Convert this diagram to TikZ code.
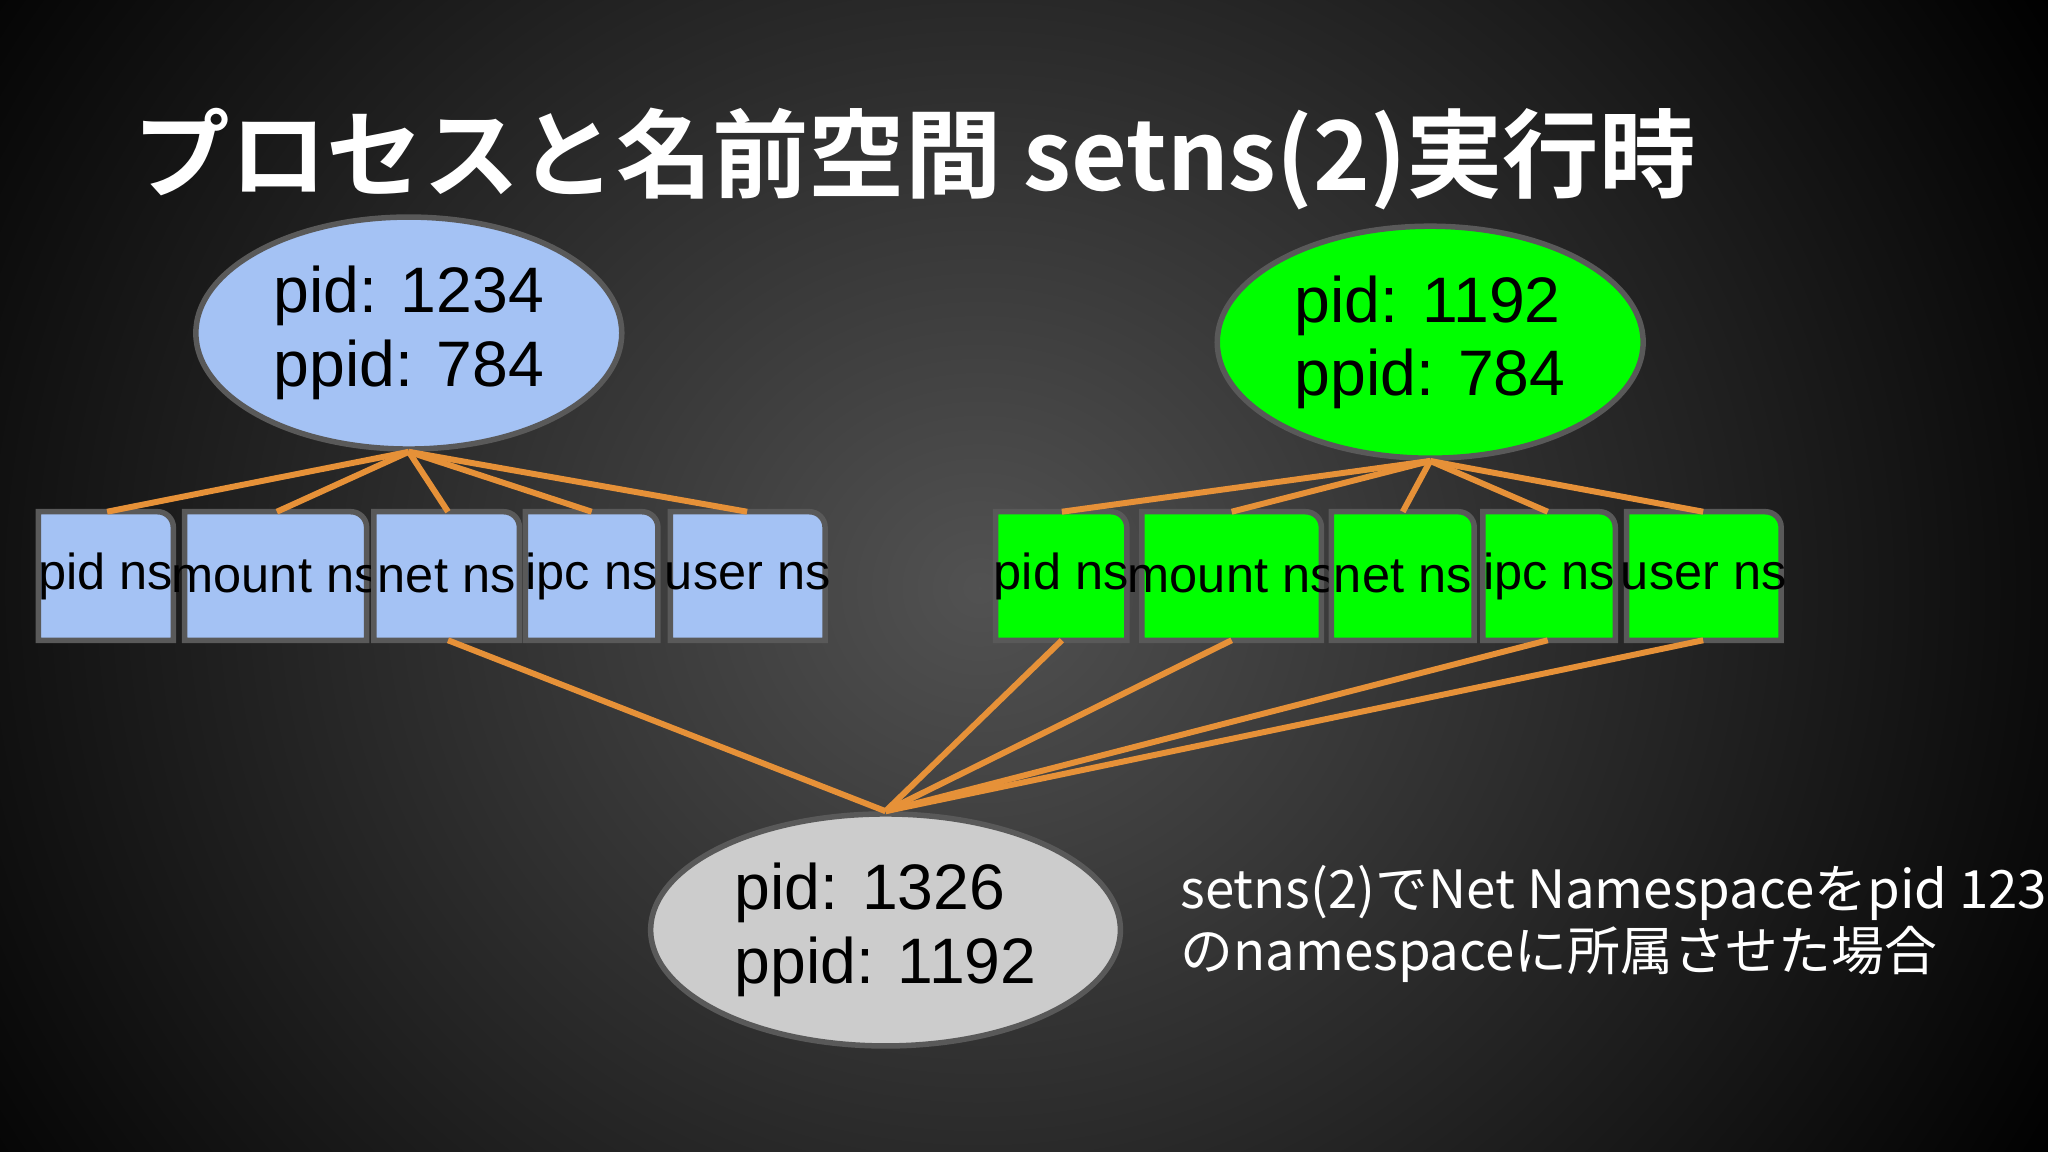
\documentclass[tikz,border=0pt]{standalone}
\usepackage{fontspec}
\setmainfont{Liberation Sans}
\newfontfamily\cjk{Noto Sans CJK JP}
\newfontfamily\cjkb{Noto Sans CJK JP Bold}
\usetikzlibrary{calc,shapes.geometric}
\definecolor{blu}{HTML}{A4C2F4}
\definecolor{grn}{HTML}{00FF00}
\definecolor{gry}{HTML}{CCCCCC}
\definecolor{org}{HTML}{E69138}
\definecolor{edge}{HTML}{595959}
\newlength{\pxu}\setlength{\pxu}{0.01cm}
\tikzset{
  proc/.style={ellipse,draw=edge,line width=1.2pt,minimum width=280\pxu,minimum height=114\pxu,align=left,font=\fontsize{14}{16}\selectfont,text=black},
  nsbox/.style={rectangle,minimum height=97\pxu,inner sep=0pt,font=\fontsize{11}{13}\selectfont,text=black},
  link/.style={org,line width=1.3pt}
}
\newcommand{\nsshape}[2]{\filldraw[fill=#2,draw=edge,line width=1.2pt] (#1.south west) -- (#1.north west) -- ($(#1.north east)+(-12\pxu,0)$) arc[start angle=90,end angle=0,radius=12\pxu] -- (#1.south east) -- cycle;}
\begin{document}
\begin{tikzpicture}[x=0.01cm,y=-0.01cm]
\useasboundingbox (0,0) rectangle (1568,882);
\fill[black] (0,0) rectangle (1568,882);
\shade[inner color=black!68!white,outer color=black] (-200,-440) rectangle (1700,1340);
\node[text=white,anchor=west,font=\cjkb\fontsize{21}{24}\selectfont] (title) at (90,122) {プロセスと名前空間 setns(2)実行時};
\foreach \n/\xa/\xb/\t in {lp/30/132/pid ns,lm/142/280/mount ns,ln/287/397/net ns,li/403/503/ipc ns,lu/514/631/user ns}{
  \node[nsbox,minimum width={(\xb-\xa)*\pxu}] (\n) at ({(\xa+\xb)/2},441) {};
  \nsshape{\n}{blu}
  \node[nsbox] at (\n) {\t};
}
\foreach \n/\xa/\xb/\t in {rp/763/862/pid ns,rm/875/1011/mount ns,rn/1020/1128/net ns,ri/1136/1236/ipc ns,ru/1246/1363/user ns}{
  \node[nsbox,minimum width={(\xb-\xa)*\pxu}] (\n) at ({(\xa+\xb)/2},441) {};
  \nsshape{\n}{grn}
  \node[nsbox] at (\n) {\t};
}
\node[proc,fill=blu] (pa) at (313,255) {pid: 1234\\ppid: 784};
\node[proc,fill=grn] (pb) at (1095,262) {pid: 1192\\ppid: 784};
\node[proc,fill=gry] (pc) at (678,712) {pid: 1326\\ppid: 1192};
\foreach \b/\x in {lp/82,lm/212,ln/343,li/453,lu/572}{
  \coordinate (tmp) at (\x,0);
  \draw[link] (pa.south) -- (tmp |- \b.north);
}
\foreach \b/\x in {rp/813,rm/943,rn/1074,ri/1185,ru/1304}{
  \coordinate (tmp) at (\x,0);
  \draw[link] (pb.south) -- (tmp |- \b.north);
}
\foreach \b/\x in {ln/343,rp/813,rm/943,ri/1185,ru/1304}{
  \coordinate (tmp) at (\x,0);
  \draw[link] (pc.north) -- (tmp |- \b.south);
}
\node[text=white,anchor=north west,align=left,font=\cjk\fontsize{11.5}{13.5}\selectfont,inner sep=0pt] (note) at (903,662) {setns(2)でNet Namespaceをpid 1234\\のnamespaceに所属させた場合};
\end{tikzpicture}
\end{document}
